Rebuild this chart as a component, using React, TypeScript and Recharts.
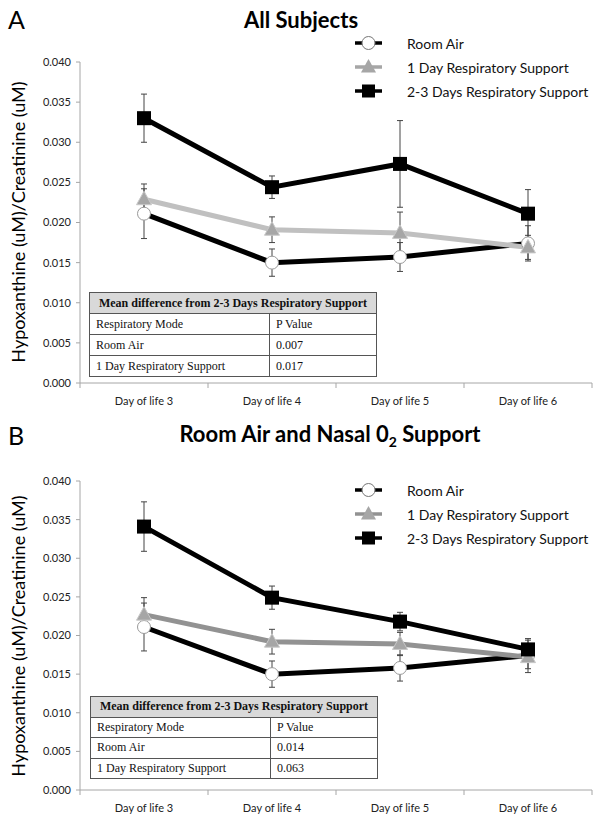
import React from 'react';
import { LineChart, Line, XAxis, YAxis, ErrorBar, Legend } from 'recharts';

const days = ['Day of life 3', 'Day of life 4', 'Day of life 5', 'Day of life 6'];
const yTicks = [0, 0.005, 0.01, 0.015, 0.02, 0.025, 0.03, 0.035, 0.04];
const seriesNames = ['Room Air', '1 Day Respiratory Support', '2-3 Days Respiratory Support'];

// panel A: all subjects
const roomAirA = [0.0211, 0.015, 0.0157, 0.0174];
const roomAirErrA = [0.0031, 0.0017, 0.0018, 0.0022];
const oneDayA = [0.0229, 0.0191, 0.0187, 0.0169];
const oneDayErrA = [0.0019, 0.0016, 0.0026, 0.0015];
const twoDaysA = [0.033, 0.0244, 0.0273, 0.0211];
const twoDaysErrA = [0.003, 0.0014, 0.0054, 0.003];

// panel B: room air and nasal O2 support
const roomAirB = [0.0211, 0.015, 0.0158, 0.0174];
const roomAirErrB = [0.0031, 0.0017, 0.0017, 0.0022];
const oneDayB = [0.0227, 0.0192, 0.0189, 0.0172];
const oneDayErrB = [0.0022, 0.0016, 0.0015, 0.0015];
const twoDaysB = [0.0341, 0.0249, 0.0218, 0.0182];
const twoDaysErrB = [0.0032, 0.0015, 0.0012, 0.0012];

const tableTitle = 'Mean difference from 2-3 Days Respiratory Support';
const tableHead = ['Respiratory Mode', 'P Value'];
const pValuesA = [['Room Air', '0.007'], ['1 Day Respiratory Support', '0.017']];
const pValuesB = [['Room Air', '0.014'], ['1 Day Respiratory Support', '0.063']];

const FONT = 'Lato, "Open Sans", sans-serif';

const buildData = (ra: number[], raE: number[], od: number[], odE: number[], td: number[], tdE: number[]) =>
  days.map((day, i) => ({
    day,
    ra: ra[i], raErr: raE[i],
    od: od[i], odErr: odE[i],
    td: td[i], tdErr: tdE[i],
  }));

const dataA = buildData(roomAirA, roomAirErrA, oneDayA, oneDayErrA, twoDaysA, twoDaysErrA);
const dataB = buildData(roomAirB, roomAirErrB, oneDayB, oneDayErrB, twoDaysB, twoDaysErrB);

const SquareDot = (props: any) => {
  const { cx, cy } = props;
  if (cx == null || cy == null) return null;
  return <rect x={cx - 7} y={cy - 7} width={14} height={14} fill="#000" />;
};

const TriangleDot = (props: any) => {
  const { cx, cy } = props;
  if (cx == null || cy == null) return null;
  return <path d={`M${cx},${cy - 8} L${cx + 7.5},${cy + 5.5} L${cx - 7.5},${cy + 5.5} Z`} fill="#a6a6a6" stroke="#c8c8c8" strokeWidth={1} />;
};

const DayTick = (props: any) => {
  const { x, y, payload, index, visibleTicksCount, width } = props;
  const half = payload.offset || width / visibleTicksCount / 2;
  return (
    <g>
      <line x1={x - half} x2={x - half} y1={y} y2={y + 5} stroke="#a6a6a6" />
      {index === visibleTicksCount - 1 && <line x1={x + half} x2={x + half} y1={y} y2={y + 5} stroke="#a6a6a6" />}
      <text x={x} y={y + 22} textAnchor="middle" fontSize={11} fill="#222" fontFamily={FONT}>{payload.value}</text>
    </g>
  );
};

const legendMarker = (name: string, gray: string) => {
  if (name === seriesNames[0]) {
    return (
      <>
        <line x1={0} x2={27} y1={8} y2={8} stroke="#000" strokeWidth={3.5} />
        <circle cx={13.5} cy={8} r={6.5} fill="#fff" stroke="#777" strokeWidth={1} />
      </>
    );
  }
  if (name === seriesNames[1]) {
    return (
      <>
        <line x1={0} x2={27} y1={8} y2={8} stroke={gray} strokeWidth={3.5} />
        <path d="M13.5,0 L21,13.5 L6,13.5 Z" fill="#a6a6a6" />
      </>
    );
  }
  return (
    <>
      <line x1={0} x2={27} y1={8} y2={8} stroke="#000" strokeWidth={3.5} />
      <rect x={7} y={1.5} width={13} height={13} fill="#000" />
    </>
  );
};

const renderLegend = (gray: string) => (props: any) => {
  const items = [...(props.payload || [])].sort(
    (a: any, b: any) => seriesNames.indexOf(a.value) - seriesNames.indexOf(b.value)
  );
  return (
    <div>
      {items.map((entry: any) => (
        <div key={entry.value} style={{ display: 'flex', alignItems: 'center', height: 24 }}>
          <svg width={40} height={16} style={{ overflow: 'visible' }}>{legendMarker(entry.value, gray)}</svg>
          <span style={{ marginLeft: 12, fontFamily: FONT, fontSize: 14, color: '#111', whiteSpace: 'nowrap' }}>{entry.value}</span>
        </div>
      ))}
    </div>
  );
};

const PTable = ({ rows, left, top, rowH }: { rows: string[][]; left: number; top: number; rowH: number }) => {
  const cell: React.CSSProperties = { border: '1px solid #555', padding: '0 6px', height: rowH - 1, textAlign: 'left' };
  return (
    <table
      style={{
        position: 'absolute', left, top, width: 288, borderCollapse: 'collapse', background: '#fff',
        fontFamily: '"Liberation Serif", "Times New Roman", serif', fontSize: 12, color: '#111',
      }}
    >
      <tbody>
        <tr>
          <td colSpan={2} style={{ ...cell, background: '#d9d9d9', fontWeight: 'bold', textAlign: 'center', fontSize: 12 }}>{tableTitle}</td>
        </tr>
        <tr>
          <td style={{ ...cell, width: 167 }}>{tableHead[0]}</td>
          <td style={cell}>{tableHead[1]}</td>
        </tr>
        {rows.map((r) => (
          <tr key={r[0]}>
            <td style={cell}>{r[0]}</td>
            <td style={cell}>{r[1]}</td>
          </tr>
        ))}
      </tbody>
    </table>
  );
};

const Panel = ({ data, gray, top, height, margin, legendTop }: any) => (
  <div style={{ position: 'absolute', left: 0, top, width: 602, height }}>
    <LineChart width={602} height={height} data={data} margin={margin}>
      <XAxis
        dataKey="day"
        scale="band"
        tick={<DayTick />}
        tickLine={false}
        tickSize={0}
        tickMargin={0}
        height={30}
        interval={0}
        axisLine={{ stroke: '#a6a6a6' }}
      />
      <YAxis
        domain={[0, 0.04]}
        ticks={yTicks}
        tickFormatter={(v: number) => v.toFixed(3)}
        width={80}
        tickSize={4}
        tickMargin={5}
        axisLine={{ stroke: '#a6a6a6' }}
        tickLine={{ stroke: '#a6a6a6' }}
        tick={{ fontSize: 11, fill: '#222', fontFamily: FONT }}
      />
      <Legend
        layout="vertical"
        align="center"
        verticalAlign="middle"
        content={renderLegend(gray === '#c0c0c0' ? '#a6a6a6' : gray)}
        wrapperStyle={{ left: 355, top: legendTop, width: 240 }}
      />
      <Line name={seriesNames[0]} dataKey="ra" type="linear" stroke="#000" strokeWidth={5} isAnimationActive={false}
        dot={{ r: 6.5, fill: '#fff', stroke: '#999', strokeWidth: 1 }}>
        <ErrorBar dataKey="raErr" width={3} stroke="#444" strokeWidth={1} direction="y" />
      </Line>
      <Line name={seriesNames[1]} dataKey="od" type="linear" stroke={gray} strokeWidth={5} isAnimationActive={false}
        dot={<TriangleDot />}>
        <ErrorBar dataKey="odErr" width={3} stroke="#444" strokeWidth={1} direction="y" />
      </Line>
      <Line name={seriesNames[2]} dataKey="td" type="linear" stroke="#000" strokeWidth={5} isAnimationActive={false}
        dot={<SquareDot />}>
        <ErrorBar dataKey="tdErr" width={3} stroke="#444" strokeWidth={1} direction="y" />
      </Line>
    </LineChart>
  </div>
);

const yLabel = 'Hypoxanthine (uM)/Creatinine (uM)';

const YLabel = ({ cy }: { cy: number }) => (
  <div
    style={{
      position: 'absolute', left: 18 - 200, top: cy - 12, width: 400, height: 24, lineHeight: '24px',
      textAlign: 'center', transform: 'rotate(-90deg)', fontFamily: FONT, fontSize: 18, color: '#000',
    }}
  >
    {yLabel}
  </div>
);

export default function App() {
  return (
    <div style={{ position: 'absolute', left: 0, top: 0, width: 602, height: 820, background: '#fff', overflow: 'hidden' }}>
      <Panel data={dataA} gray="#c0c0c0" top={0} height={420} margin={{ top: 62, right: 10, left: 0, bottom: 7 }} legendTop={31} />
      <Panel data={dataB} gray="#929292" top={420} height={400} margin={{ top: 61, right: 10, left: 0, bottom: 0 }} legendTop={58} />

      <div style={{ position: 'absolute', left: 8, top: 4, fontFamily: FONT, fontSize: 25, lineHeight: '30px' }}>A</div>
      <div style={{ position: 'absolute', left: 0, top: 7, width: 602, textAlign: 'center', fontFamily: FONT, fontWeight: 'bold', fontSize: 22, lineHeight: '26px' }}>
        All Subjects
      </div>
      <div style={{ position: 'absolute', left: 8, top: 420, fontFamily: FONT, fontSize: 25, lineHeight: '30px' }}>B</div>
      <div style={{ position: 'absolute', left: 30, top: 421, width: 600, textAlign: 'center', fontFamily: FONT, fontWeight: 'bold', fontSize: 22, lineHeight: '26px' }}>
        Room Air and Nasal 0<sub style={{ fontSize: 14 }}>2</sub> Support
      </div>

      <YLabel cy={222} />
      <YLabel cy={636} />

      <PTable rows={pValuesA} left={89} top={292} rowH={21} />
      <PTable rows={pValuesB} left={90} top={696} rowH={20.5} />
    </div>
  );
}
